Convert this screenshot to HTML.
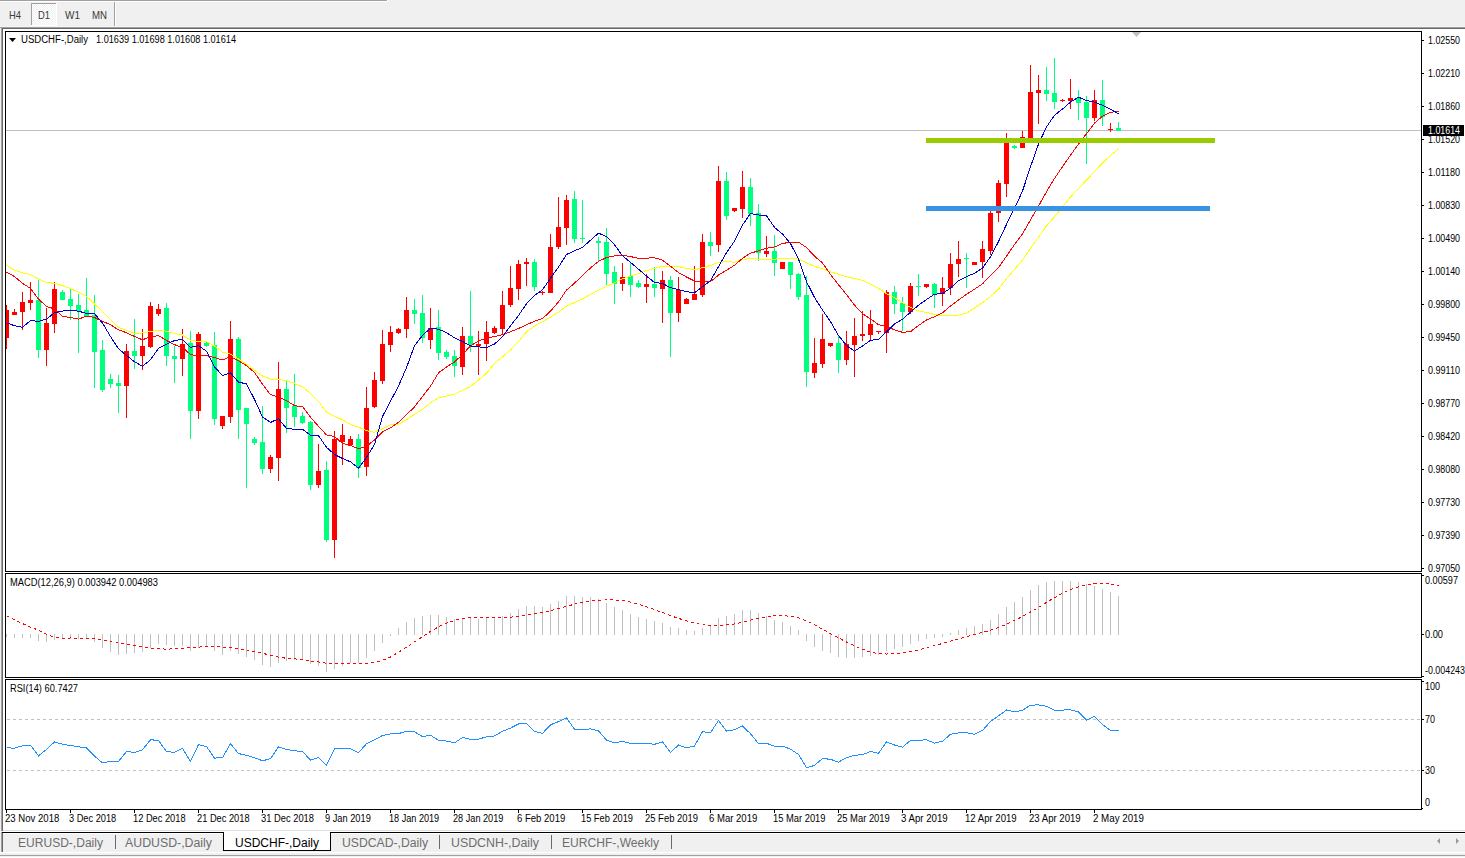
<!DOCTYPE html><html><head><meta charset="utf-8"><style>html,body{margin:0;padding:0;background:#f0f0f0;overflow:hidden}svg{display:block}text{font-family:"Liberation Sans",sans-serif}</style></head><body><svg width="1465" height="858" viewBox="0 0 1465 858" font-family="Liberation Sans, sans-serif" shape-rendering="crispEdges">
<rect x="0" y="0" width="1465" height="858" fill="#f0f0f0"/>
<rect x="0" y="0" width="387" height="1" fill="#a0a0a0"/>
<rect x="0" y="1" width="388" height="1" fill="#ffffff"/>
<rect x="387" y="0" width="1" height="2" fill="#ffffff"/>
<defs><pattern id="dith" width="2" height="2" patternUnits="userSpaceOnUse"><rect width="2" height="2" fill="#f0f0f0"/><rect width="1" height="1" fill="#ffffff"/><rect x="1" y="1" width="1" height="1" fill="#ffffff"/></pattern></defs>
<rect x="32" y="4" width="24" height="21" fill="url(#dith)"/>
<rect x="31" y="3" width="25" height="1" fill="#a0a0a0"/>
<rect x="31" y="3" width="1" height="22" fill="#a0a0a0"/>
<rect x="31" y="25" width="26" height="1" fill="#ffffff"/>
<rect x="56" y="3" width="1" height="23" fill="#ffffff"/>
<rect x="114" y="2" width="1" height="25" fill="#a0a0a0"/>
<rect x="115" y="2" width="1" height="25" fill="#ffffff"/>
<text x="9" y="19" font-size="10.4" fill="#3a3a3a" text-anchor="start" textLength="12" lengthAdjust="spacingAndGlyphs">H4</text>
<text x="38" y="19" font-size="10.4" fill="#3a3a3a" text-anchor="start" textLength="12" lengthAdjust="spacingAndGlyphs">D1</text>
<text x="65" y="19" font-size="10.4" fill="#3a3a3a" text-anchor="start" textLength="15" lengthAdjust="spacingAndGlyphs">W1</text>
<text x="92" y="19" font-size="10.4" fill="#3a3a3a" text-anchor="start" textLength="15" lengthAdjust="spacingAndGlyphs">MN</text>
<rect x="0" y="26" width="1465" height="1" fill="#f5f5f5"/>
<rect x="0" y="27" width="1465" height="1" fill="#a0a0a0"/>
<rect x="2" y="28" width="1463" height="1" fill="#696969"/>
<rect x="1" y="27" width="1" height="804" fill="#a0a0a0"/>
<rect x="2" y="28" width="1" height="803" fill="#696969"/>
<rect x="3" y="29" width="1462" height="803" fill="#ffffff"/>
<rect x="3" y="830" width="1462" height="1" fill="#e3e3e3"/>
<rect x="5" y="31" width="1417" height="1" fill="#000000"/>
<rect x="5" y="571" width="1417" height="1" fill="#000000"/>
<rect x="5" y="31" width="1" height="541" fill="#000000"/>
<rect x="1421" y="31" width="1" height="541" fill="#000000"/>
<rect x="5" y="573" width="1417" height="1" fill="#000000"/>
<rect x="5" y="677" width="1417" height="1" fill="#000000"/>
<rect x="5" y="573" width="1" height="105" fill="#000000"/>
<rect x="1421" y="573" width="1" height="105" fill="#000000"/>
<rect x="5" y="679" width="1417" height="1" fill="#000000"/>
<rect x="5" y="809" width="1417" height="1" fill="#000000"/>
<rect x="5" y="679" width="1" height="131" fill="#000000"/>
<rect x="1421" y="679" width="1" height="131" fill="#000000"/>
<defs><clipPath id="cm"><rect x="6" y="32" width="1415" height="539"/></clipPath><clipPath id="cd"><rect x="6" y="574" width="1415" height="103"/></clipPath><clipPath id="cr"><rect x="6" y="680" width="1415" height="129"/></clipPath></defs>
<rect x="1422" y="40" width="2" height="1" fill="#000000"/>
<text x="1428" y="44" font-size="10" fill="#000" text-anchor="start" textLength="32" lengthAdjust="spacingAndGlyphs">1.02550</text>
<rect x="1422" y="73" width="2" height="1" fill="#000000"/>
<text x="1428" y="77" font-size="10" fill="#000" text-anchor="start" textLength="32" lengthAdjust="spacingAndGlyphs">1.02210</text>
<rect x="1422" y="106" width="2" height="1" fill="#000000"/>
<text x="1428" y="110" font-size="10" fill="#000" text-anchor="start" textLength="32" lengthAdjust="spacingAndGlyphs">1.01860</text>
<rect x="1422" y="139" width="2" height="1" fill="#000000"/>
<text x="1428" y="143" font-size="10" fill="#000" text-anchor="start" textLength="32" lengthAdjust="spacingAndGlyphs">1.01520</text>
<rect x="1422" y="172" width="2" height="1" fill="#000000"/>
<text x="1428" y="176" font-size="10" fill="#000" text-anchor="start" textLength="32" lengthAdjust="spacingAndGlyphs">1.01180</text>
<rect x="1422" y="205" width="2" height="1" fill="#000000"/>
<text x="1428" y="209" font-size="10" fill="#000" text-anchor="start" textLength="32" lengthAdjust="spacingAndGlyphs">1.00830</text>
<rect x="1422" y="238" width="2" height="1" fill="#000000"/>
<text x="1428" y="242" font-size="10" fill="#000" text-anchor="start" textLength="32" lengthAdjust="spacingAndGlyphs">1.00490</text>
<rect x="1422" y="271" width="2" height="1" fill="#000000"/>
<text x="1428" y="275" font-size="10" fill="#000" text-anchor="start" textLength="32" lengthAdjust="spacingAndGlyphs">1.00140</text>
<rect x="1422" y="304" width="2" height="1" fill="#000000"/>
<text x="1428" y="308" font-size="10" fill="#000" text-anchor="start" textLength="32" lengthAdjust="spacingAndGlyphs">0.99800</text>
<rect x="1422" y="337" width="2" height="1" fill="#000000"/>
<text x="1428" y="341" font-size="10" fill="#000" text-anchor="start" textLength="32" lengthAdjust="spacingAndGlyphs">0.99450</text>
<rect x="1422" y="370" width="2" height="1" fill="#000000"/>
<text x="1428" y="374" font-size="10" fill="#000" text-anchor="start" textLength="32" lengthAdjust="spacingAndGlyphs">0.99110</text>
<rect x="1422" y="403" width="2" height="1" fill="#000000"/>
<text x="1428" y="407" font-size="10" fill="#000" text-anchor="start" textLength="32" lengthAdjust="spacingAndGlyphs">0.98770</text>
<rect x="1422" y="436" width="2" height="1" fill="#000000"/>
<text x="1428" y="440" font-size="10" fill="#000" text-anchor="start" textLength="32" lengthAdjust="spacingAndGlyphs">0.98420</text>
<rect x="1422" y="469" width="2" height="1" fill="#000000"/>
<text x="1428" y="473" font-size="10" fill="#000" text-anchor="start" textLength="32" lengthAdjust="spacingAndGlyphs">0.98080</text>
<rect x="1422" y="502" width="2" height="1" fill="#000000"/>
<text x="1428" y="506" font-size="10" fill="#000" text-anchor="start" textLength="32" lengthAdjust="spacingAndGlyphs">0.97730</text>
<rect x="1422" y="535" width="2" height="1" fill="#000000"/>
<text x="1428" y="539" font-size="10" fill="#000" text-anchor="start" textLength="32" lengthAdjust="spacingAndGlyphs">0.97390</text>
<rect x="1422" y="568" width="2" height="1" fill="#000000"/>
<text x="1428" y="572" font-size="10" fill="#000" text-anchor="start" textLength="32" lengthAdjust="spacingAndGlyphs">0.97050</text>
<g clip-path="url(#cm)">
<rect x="6" y="130" width="1415" height="1" fill="#c0c0c0"/>
<rect x="6" y="305" width="1" height="44" fill="#ff0000"/>
<rect x="4" y="310" width="5" height="28" fill="#ff0000"/>
<rect x="14" y="309" width="1" height="6" fill="#ff0000"/>
<rect x="12" y="312" width="5" height="3" fill="#ff0000"/>
<rect x="22" y="292" width="1" height="38" fill="#ff0000"/>
<rect x="20" y="302" width="5" height="10" fill="#ff0000"/>
<rect x="30" y="282" width="1" height="28" fill="#ff0000"/>
<rect x="28" y="300" width="5" height="3" fill="#ff0000"/>
<rect x="38" y="280" width="1" height="78" fill="#00ff7f"/>
<rect x="36" y="300" width="5" height="50" fill="#00ff7f"/>
<rect x="46" y="308" width="1" height="58" fill="#ff0000"/>
<rect x="44" y="323" width="5" height="27" fill="#ff0000"/>
<rect x="54" y="282" width="1" height="51" fill="#ff0000"/>
<rect x="52" y="289" width="5" height="35" fill="#ff0000"/>
<rect x="62" y="290" width="1" height="10" fill="#00ff7f"/>
<rect x="60" y="292" width="5" height="8" fill="#00ff7f"/>
<rect x="70" y="288" width="1" height="32" fill="#00ff7f"/>
<rect x="68" y="299" width="5" height="7" fill="#00ff7f"/>
<rect x="78" y="294" width="1" height="59" fill="#00ff7f"/>
<rect x="76" y="305" width="5" height="6" fill="#00ff7f"/>
<rect x="86" y="278" width="1" height="38" fill="#00ff7f"/>
<rect x="84" y="310" width="5" height="6" fill="#00ff7f"/>
<rect x="94" y="295" width="1" height="93" fill="#00ff7f"/>
<rect x="92" y="315" width="5" height="37" fill="#00ff7f"/>
<rect x="102" y="340" width="1" height="52" fill="#00ff7f"/>
<rect x="100" y="350" width="5" height="40" fill="#00ff7f"/>
<rect x="110" y="374" width="1" height="14" fill="#00ff7f"/>
<rect x="108" y="379" width="5" height="5" fill="#00ff7f"/>
<rect x="118" y="375" width="1" height="38" fill="#00ff7f"/>
<rect x="116" y="383" width="5" height="3" fill="#00ff7f"/>
<rect x="126" y="344" width="1" height="74" fill="#ff0000"/>
<rect x="124" y="351" width="5" height="35" fill="#ff0000"/>
<rect x="134" y="319" width="1" height="50" fill="#00ff7f"/>
<rect x="132" y="351" width="5" height="5" fill="#00ff7f"/>
<rect x="142" y="329" width="1" height="41" fill="#ff0000"/>
<rect x="140" y="346" width="5" height="10" fill="#ff0000"/>
<rect x="150" y="302" width="1" height="46" fill="#ff0000"/>
<rect x="148" y="306" width="5" height="41" fill="#ff0000"/>
<rect x="158" y="304" width="1" height="12" fill="#ff0000"/>
<rect x="156" y="309" width="5" height="5" fill="#ff0000"/>
<rect x="166" y="303" width="1" height="63" fill="#00ff7f"/>
<rect x="164" y="308" width="5" height="48" fill="#00ff7f"/>
<rect x="174" y="346" width="1" height="37" fill="#00ff7f"/>
<rect x="172" y="356" width="5" height="3" fill="#00ff7f"/>
<rect x="182" y="329" width="1" height="47" fill="#ff0000"/>
<rect x="180" y="344" width="5" height="15" fill="#ff0000"/>
<rect x="190" y="331" width="1" height="108" fill="#00ff7f"/>
<rect x="188" y="343" width="5" height="68" fill="#00ff7f"/>
<rect x="198" y="332" width="1" height="87" fill="#ff0000"/>
<rect x="196" y="334" width="5" height="77" fill="#ff0000"/>
<rect x="206" y="342" width="1" height="5" fill="#00ff7f"/>
<rect x="204" y="343" width="5" height="3" fill="#00ff7f"/>
<rect x="214" y="332" width="1" height="93" fill="#00ff7f"/>
<rect x="212" y="345" width="5" height="74" fill="#00ff7f"/>
<rect x="222" y="416" width="1" height="13" fill="#ff0000"/>
<rect x="220" y="416" width="5" height="10" fill="#ff0000"/>
<rect x="230" y="321" width="1" height="102" fill="#ff0000"/>
<rect x="228" y="339" width="5" height="78" fill="#ff0000"/>
<rect x="238" y="337" width="1" height="102" fill="#00ff7f"/>
<rect x="236" y="339" width="5" height="71" fill="#00ff7f"/>
<rect x="246" y="408" width="1" height="80" fill="#00ff7f"/>
<rect x="244" y="408" width="5" height="16" fill="#00ff7f"/>
<rect x="254" y="437" width="1" height="8" fill="#00ff7f"/>
<rect x="252" y="439" width="5" height="4" fill="#00ff7f"/>
<rect x="262" y="406" width="1" height="68" fill="#00ff7f"/>
<rect x="260" y="442" width="5" height="27" fill="#00ff7f"/>
<rect x="270" y="455" width="1" height="18" fill="#ff0000"/>
<rect x="268" y="457" width="5" height="12" fill="#ff0000"/>
<rect x="278" y="362" width="1" height="119" fill="#ff0000"/>
<rect x="276" y="389" width="5" height="69" fill="#ff0000"/>
<rect x="286" y="380" width="1" height="53" fill="#00ff7f"/>
<rect x="284" y="389" width="5" height="19" fill="#00ff7f"/>
<rect x="294" y="374" width="1" height="53" fill="#00ff7f"/>
<rect x="292" y="406" width="5" height="11" fill="#00ff7f"/>
<rect x="302" y="412" width="1" height="12" fill="#00ff7f"/>
<rect x="300" y="416" width="5" height="7" fill="#00ff7f"/>
<rect x="310" y="421" width="1" height="69" fill="#00ff7f"/>
<rect x="308" y="422" width="5" height="63" fill="#00ff7f"/>
<rect x="318" y="444" width="1" height="44" fill="#ff0000"/>
<rect x="316" y="471" width="5" height="14" fill="#ff0000"/>
<rect x="326" y="461" width="1" height="81" fill="#00ff7f"/>
<rect x="324" y="470" width="5" height="70" fill="#00ff7f"/>
<rect x="334" y="431" width="1" height="127" fill="#ff0000"/>
<rect x="332" y="439" width="5" height="101" fill="#ff0000"/>
<rect x="342" y="424" width="1" height="41" fill="#ff0000"/>
<rect x="340" y="435" width="5" height="7" fill="#ff0000"/>
<rect x="350" y="436" width="1" height="10" fill="#ff0000"/>
<rect x="348" y="439" width="5" height="6" fill="#ff0000"/>
<rect x="358" y="434" width="1" height="44" fill="#00ff7f"/>
<rect x="356" y="439" width="5" height="29" fill="#00ff7f"/>
<rect x="366" y="387" width="1" height="89" fill="#ff0000"/>
<rect x="364" y="408" width="5" height="59" fill="#ff0000"/>
<rect x="374" y="372" width="1" height="36" fill="#ff0000"/>
<rect x="372" y="380" width="5" height="27" fill="#ff0000"/>
<rect x="382" y="330" width="1" height="54" fill="#ff0000"/>
<rect x="380" y="344" width="5" height="37" fill="#ff0000"/>
<rect x="390" y="326" width="1" height="26" fill="#ff0000"/>
<rect x="388" y="332" width="5" height="13" fill="#ff0000"/>
<rect x="398" y="328" width="1" height="6" fill="#ff0000"/>
<rect x="396" y="329" width="5" height="4" fill="#ff0000"/>
<rect x="406" y="297" width="1" height="41" fill="#ff0000"/>
<rect x="404" y="310" width="5" height="19" fill="#ff0000"/>
<rect x="414" y="299" width="1" height="25" fill="#00ff7f"/>
<rect x="412" y="310" width="5" height="4" fill="#00ff7f"/>
<rect x="422" y="295" width="1" height="48" fill="#00ff7f"/>
<rect x="420" y="313" width="5" height="25" fill="#00ff7f"/>
<rect x="430" y="308" width="1" height="41" fill="#ff0000"/>
<rect x="428" y="328" width="5" height="12" fill="#ff0000"/>
<rect x="438" y="310" width="1" height="50" fill="#00ff7f"/>
<rect x="436" y="327" width="5" height="26" fill="#00ff7f"/>
<rect x="446" y="350" width="1" height="9" fill="#00ff7f"/>
<rect x="444" y="352" width="5" height="5" fill="#00ff7f"/>
<rect x="454" y="350" width="1" height="27" fill="#00ff7f"/>
<rect x="452" y="356" width="5" height="10" fill="#00ff7f"/>
<rect x="462" y="327" width="1" height="48" fill="#ff0000"/>
<rect x="460" y="336" width="5" height="31" fill="#ff0000"/>
<rect x="470" y="291" width="1" height="61" fill="#00ff7f"/>
<rect x="468" y="336" width="5" height="9" fill="#00ff7f"/>
<rect x="478" y="331" width="1" height="44" fill="#ff0000"/>
<rect x="476" y="344" width="5" height="2" fill="#ff0000"/>
<rect x="486" y="321" width="1" height="40" fill="#ff0000"/>
<rect x="484" y="332" width="5" height="12" fill="#ff0000"/>
<rect x="494" y="326" width="1" height="8" fill="#ff0000"/>
<rect x="492" y="328" width="5" height="5" fill="#ff0000"/>
<rect x="502" y="291" width="1" height="44" fill="#ff0000"/>
<rect x="500" y="305" width="5" height="24" fill="#ff0000"/>
<rect x="510" y="266" width="1" height="41" fill="#ff0000"/>
<rect x="508" y="288" width="5" height="17" fill="#ff0000"/>
<rect x="518" y="260" width="1" height="40" fill="#ff0000"/>
<rect x="516" y="264" width="5" height="25" fill="#ff0000"/>
<rect x="526" y="258" width="1" height="28" fill="#ff0000"/>
<rect x="524" y="262" width="5" height="2" fill="#ff0000"/>
<rect x="534" y="259" width="1" height="32" fill="#00ff7f"/>
<rect x="532" y="262" width="5" height="25" fill="#00ff7f"/>
<rect x="542" y="291" width="1" height="4" fill="#ff0000"/>
<rect x="540" y="292" width="5" height="1" fill="#ff0000"/>
<rect x="550" y="234" width="1" height="59" fill="#ff0000"/>
<rect x="548" y="247" width="5" height="46" fill="#ff0000"/>
<rect x="558" y="197" width="1" height="52" fill="#ff0000"/>
<rect x="556" y="227" width="5" height="20" fill="#ff0000"/>
<rect x="566" y="195" width="1" height="50" fill="#ff0000"/>
<rect x="564" y="200" width="5" height="28" fill="#ff0000"/>
<rect x="574" y="191" width="1" height="52" fill="#00ff7f"/>
<rect x="572" y="199" width="5" height="40" fill="#00ff7f"/>
<rect x="582" y="200" width="1" height="43" fill="#00ff7f"/>
<rect x="580" y="238" width="5" height="1" fill="#00ff7f"/>
<rect x="598" y="237" width="1" height="24" fill="#00ff7f"/>
<rect x="596" y="241" width="5" height="2" fill="#00ff7f"/>
<rect x="606" y="228" width="1" height="57" fill="#00ff7f"/>
<rect x="604" y="242" width="5" height="32" fill="#00ff7f"/>
<rect x="614" y="266" width="1" height="38" fill="#00ff7f"/>
<rect x="612" y="272" width="5" height="12" fill="#00ff7f"/>
<rect x="622" y="263" width="1" height="28" fill="#ff0000"/>
<rect x="620" y="277" width="5" height="7" fill="#ff0000"/>
<rect x="630" y="262" width="1" height="35" fill="#00ff7f"/>
<rect x="628" y="276" width="5" height="9" fill="#00ff7f"/>
<rect x="638" y="280" width="1" height="8" fill="#00ff7f"/>
<rect x="636" y="283" width="5" height="4" fill="#00ff7f"/>
<rect x="646" y="274" width="1" height="29" fill="#ff0000"/>
<rect x="644" y="284" width="5" height="3" fill="#ff0000"/>
<rect x="654" y="267" width="1" height="30" fill="#00ff7f"/>
<rect x="652" y="284" width="5" height="4" fill="#00ff7f"/>
<rect x="662" y="271" width="1" height="52" fill="#ff0000"/>
<rect x="660" y="280" width="5" height="9" fill="#ff0000"/>
<rect x="670" y="276" width="1" height="81" fill="#00ff7f"/>
<rect x="668" y="280" width="5" height="33" fill="#00ff7f"/>
<rect x="678" y="277" width="1" height="45" fill="#ff0000"/>
<rect x="676" y="290" width="5" height="23" fill="#ff0000"/>
<rect x="686" y="298" width="1" height="6" fill="#ff0000"/>
<rect x="684" y="299" width="5" height="5" fill="#ff0000"/>
<rect x="694" y="266" width="1" height="34" fill="#ff0000"/>
<rect x="692" y="294" width="5" height="6" fill="#ff0000"/>
<rect x="702" y="234" width="1" height="63" fill="#ff0000"/>
<rect x="700" y="242" width="5" height="53" fill="#ff0000"/>
<rect x="710" y="232" width="1" height="24" fill="#00ff7f"/>
<rect x="708" y="242" width="5" height="4" fill="#00ff7f"/>
<rect x="718" y="166" width="1" height="86" fill="#ff0000"/>
<rect x="716" y="181" width="5" height="64" fill="#ff0000"/>
<rect x="726" y="172" width="1" height="48" fill="#00ff7f"/>
<rect x="724" y="181" width="5" height="35" fill="#00ff7f"/>
<rect x="734" y="208" width="1" height="4" fill="#ff0000"/>
<rect x="732" y="208" width="5" height="3" fill="#ff0000"/>
<rect x="742" y="171" width="1" height="47" fill="#ff0000"/>
<rect x="740" y="187" width="5" height="22" fill="#ff0000"/>
<rect x="750" y="178" width="1" height="48" fill="#00ff7f"/>
<rect x="748" y="187" width="5" height="27" fill="#00ff7f"/>
<rect x="758" y="204" width="1" height="57" fill="#00ff7f"/>
<rect x="756" y="213" width="5" height="40" fill="#00ff7f"/>
<rect x="766" y="236" width="1" height="21" fill="#ff0000"/>
<rect x="764" y="251" width="5" height="3" fill="#ff0000"/>
<rect x="774" y="235" width="1" height="41" fill="#00ff7f"/>
<rect x="772" y="251" width="5" height="12" fill="#00ff7f"/>
<rect x="782" y="262" width="1" height="7" fill="#ff0000"/>
<rect x="780" y="262" width="5" height="7" fill="#ff0000"/>
<rect x="790" y="262" width="1" height="27" fill="#00ff7f"/>
<rect x="788" y="262" width="5" height="13" fill="#00ff7f"/>
<rect x="798" y="273" width="1" height="27" fill="#00ff7f"/>
<rect x="796" y="274" width="5" height="23" fill="#00ff7f"/>
<rect x="806" y="276" width="1" height="111" fill="#00ff7f"/>
<rect x="804" y="295" width="5" height="77" fill="#00ff7f"/>
<rect x="814" y="338" width="1" height="40" fill="#ff0000"/>
<rect x="812" y="363" width="5" height="10" fill="#ff0000"/>
<rect x="822" y="314" width="1" height="54" fill="#ff0000"/>
<rect x="820" y="339" width="5" height="25" fill="#ff0000"/>
<rect x="830" y="343" width="1" height="4" fill="#ff0000"/>
<rect x="828" y="343" width="5" height="3" fill="#ff0000"/>
<rect x="838" y="336" width="1" height="37" fill="#00ff7f"/>
<rect x="836" y="343" width="5" height="17" fill="#00ff7f"/>
<rect x="846" y="331" width="1" height="34" fill="#ff0000"/>
<rect x="844" y="344" width="5" height="16" fill="#ff0000"/>
<rect x="854" y="318" width="1" height="59" fill="#ff0000"/>
<rect x="852" y="336" width="5" height="9" fill="#ff0000"/>
<rect x="862" y="311" width="1" height="30" fill="#ff0000"/>
<rect x="860" y="334" width="5" height="2" fill="#ff0000"/>
<rect x="870" y="310" width="1" height="30" fill="#ff0000"/>
<rect x="868" y="324" width="5" height="11" fill="#ff0000"/>
<rect x="878" y="331" width="1" height="3" fill="#ff0000"/>
<rect x="876" y="331" width="5" height="1" fill="#ff0000"/>
<rect x="886" y="290" width="1" height="63" fill="#ff0000"/>
<rect x="884" y="292" width="5" height="41" fill="#ff0000"/>
<rect x="894" y="286" width="1" height="28" fill="#00ff7f"/>
<rect x="892" y="292" width="5" height="12" fill="#00ff7f"/>
<rect x="902" y="297" width="1" height="34" fill="#00ff7f"/>
<rect x="900" y="303" width="5" height="9" fill="#00ff7f"/>
<rect x="910" y="283" width="1" height="31" fill="#ff0000"/>
<rect x="908" y="286" width="5" height="26" fill="#ff0000"/>
<rect x="918" y="274" width="1" height="22" fill="#00ff7f"/>
<rect x="916" y="286" width="5" height="1" fill="#00ff7f"/>
<rect x="926" y="284" width="1" height="4" fill="#ff0000"/>
<rect x="924" y="284" width="5" height="3" fill="#ff0000"/>
<rect x="934" y="283" width="1" height="25" fill="#00ff7f"/>
<rect x="932" y="284" width="5" height="11" fill="#00ff7f"/>
<rect x="942" y="277" width="1" height="29" fill="#ff0000"/>
<rect x="940" y="288" width="5" height="6" fill="#ff0000"/>
<rect x="950" y="253" width="1" height="42" fill="#ff0000"/>
<rect x="948" y="264" width="5" height="24" fill="#ff0000"/>
<rect x="958" y="241" width="1" height="36" fill="#ff0000"/>
<rect x="956" y="259" width="5" height="5" fill="#ff0000"/>
<rect x="966" y="253" width="1" height="35" fill="#00ff7f"/>
<rect x="964" y="258" width="5" height="1" fill="#00ff7f"/>
<rect x="974" y="262" width="1" height="3" fill="#ff0000"/>
<rect x="972" y="262" width="5" height="3" fill="#ff0000"/>
<rect x="982" y="241" width="1" height="37" fill="#ff0000"/>
<rect x="980" y="249" width="5" height="13" fill="#ff0000"/>
<rect x="990" y="211" width="1" height="44" fill="#ff0000"/>
<rect x="988" y="213" width="5" height="38" fill="#ff0000"/>
<rect x="998" y="180" width="1" height="42" fill="#ff0000"/>
<rect x="996" y="183" width="5" height="30" fill="#ff0000"/>
<rect x="1006" y="133" width="1" height="64" fill="#ff0000"/>
<rect x="1004" y="143" width="5" height="41" fill="#ff0000"/>
<rect x="1014" y="145" width="1" height="4" fill="#00ff7f"/>
<rect x="1012" y="146" width="5" height="2" fill="#00ff7f"/>
<rect x="1022" y="131" width="1" height="17" fill="#ff0000"/>
<rect x="1020" y="137" width="5" height="11" fill="#ff0000"/>
<rect x="1030" y="65" width="1" height="76" fill="#ff0000"/>
<rect x="1028" y="92" width="5" height="47" fill="#ff0000"/>
<rect x="1038" y="75" width="1" height="49" fill="#ff0000"/>
<rect x="1036" y="90" width="5" height="3" fill="#ff0000"/>
<rect x="1046" y="67" width="1" height="34" fill="#00ff7f"/>
<rect x="1044" y="90" width="5" height="4" fill="#00ff7f"/>
<rect x="1054" y="58" width="1" height="51" fill="#00ff7f"/>
<rect x="1052" y="93" width="5" height="9" fill="#00ff7f"/>
<rect x="1062" y="99" width="1" height="3" fill="#ff0000"/>
<rect x="1060" y="100" width="5" height="1" fill="#ff0000"/>
<rect x="1070" y="79" width="1" height="30" fill="#ff0000"/>
<rect x="1068" y="98" width="5" height="3" fill="#ff0000"/>
<rect x="1078" y="90" width="1" height="30" fill="#00ff7f"/>
<rect x="1076" y="98" width="5" height="5" fill="#00ff7f"/>
<rect x="1086" y="96" width="1" height="68" fill="#00ff7f"/>
<rect x="1084" y="102" width="5" height="16" fill="#00ff7f"/>
<rect x="1094" y="90" width="1" height="31" fill="#ff0000"/>
<rect x="1092" y="100" width="5" height="18" fill="#ff0000"/>
<rect x="1102" y="80" width="1" height="46" fill="#00ff7f"/>
<rect x="1100" y="100" width="5" height="17" fill="#00ff7f"/>
<rect x="1110" y="123" width="1" height="9" fill="#ff0000"/>
<rect x="1108" y="129" width="5" height="1" fill="#ff0000"/>
<rect x="1118" y="122" width="1" height="9" fill="#00ff7f"/>
<rect x="1116" y="128" width="5" height="3" fill="#00ff7f"/>
<polyline points="6.5,265.30 14.5,270.20 22.5,272.80 30.5,274.70 38.5,279.10 46.5,282.50 54.5,283.30 62.5,285.60 70.5,288.60 78.5,292.30 86.5,296.30 94.5,303.90 102.5,311.50 110.5,319.60 118.5,327.60 126.5,330.30 134.5,333.40 142.5,333.00 150.5,331.30 158.5,330.30 166.5,331.17 174.5,333.45 182.5,334.98 190.5,340.12 198.5,341.74 206.5,341.55 214.5,346.07 222.5,352.12 230.5,354.02 238.5,358.98 246.5,364.36 254.5,370.40 262.5,375.98 270.5,379.21 278.5,379.50 286.5,380.55 294.5,383.64 302.5,386.83 310.5,393.40 318.5,401.26 326.5,412.21 334.5,416.21 342.5,419.88 350.5,424.40 358.5,427.12 366.5,430.64 374.5,432.31 382.5,428.79 390.5,424.79 398.5,424.31 406.5,419.60 414.5,414.36 422.5,409.36 430.5,402.69 438.5,397.69 446.5,396.12 454.5,394.12 462.5,390.31 470.5,386.60 478.5,379.93 486.5,373.31 494.5,363.26 502.5,356.88 510.5,349.88 518.5,341.55 526.5,331.79 534.5,325.98 542.5,321.79 550.5,317.17 558.5,312.17 566.5,306.02 574.5,302.60 582.5,299.02 590.5,294.21 598.5,290.12 606.5,286.36 614.5,282.88 622.5,278.69 630.5,276.21 638.5,273.45 646.5,270.60 654.5,268.45 662.5,266.17 670.5,266.50 678.5,266.60 686.5,268.26 694.5,269.79 702.5,267.69 710.5,265.45 718.5,262.31 726.5,261.74 734.5,262.12 742.5,259.69 750.5,258.50 758.5,259.26 766.5,259.69 774.5,259.17 782.5,258.17 790.5,258.02 798.5,258.60 806.5,262.64 814.5,266.40 822.5,268.88 830.5,271.88 838.5,274.12 846.5,276.69 854.5,278.45 862.5,280.36 870.5,284.26 878.5,288.36 886.5,293.64 894.5,297.83 902.5,302.74 910.5,307.45 918.5,310.93 926.5,312.45 934.5,314.50 942.5,315.74 950.5,315.83 958.5,315.12 966.5,313.31 974.5,308.12 982.5,302.69 990.5,296.69 998.5,289.07 1006.5,278.79 1014.5,269.40 1022.5,259.93 1030.5,248.40 1038.5,237.26 1046.5,225.93 1054.5,216.83 1062.5,207.17 1070.5,197.02 1078.5,188.26 1086.5,180.21 1094.5,171.45 1102.5,162.98 1110.5,155.40 1118.5,149.02" fill="none" stroke="#ffff00" stroke-width="1" shape-rendering="crispEdges"/>
<polyline points="6.5,272.30 14.5,276.50 22.5,283.30 30.5,288.40 38.5,299.10 46.5,306.40 54.5,309.00 62.5,316.40 70.5,317.40 78.5,319.20 86.5,316.10 94.5,317.50 102.5,321.40 110.5,324.57 118.5,329.93 126.5,332.71 134.5,336.50 142.5,339.79 150.5,336.71 158.5,335.71 166.5,340.43 174.5,344.64 182.5,347.43 190.5,354.57 198.5,355.93 206.5,355.50 214.5,357.57 222.5,359.93 230.5,356.64 238.5,360.79 246.5,365.64 254.5,372.50 262.5,384.07 270.5,394.64 278.5,397.07 286.5,400.57 294.5,405.71 302.5,406.57 310.5,417.29 318.5,426.29 326.5,434.93 334.5,436.57 342.5,443.43 350.5,445.57 358.5,448.71 366.5,446.29 374.5,440.00 382.5,431.93 390.5,427.86 398.5,422.29 406.5,414.71 414.5,406.93 422.5,396.43 430.5,386.21 438.5,372.86 446.5,366.93 454.5,361.93 462.5,354.57 470.5,345.79 478.5,341.21 486.5,337.79 494.5,336.64 502.5,334.71 510.5,331.79 518.5,328.50 526.5,324.86 534.5,321.21 542.5,318.64 550.5,311.14 558.5,301.93 566.5,290.14 574.5,283.14 582.5,275.57 590.5,267.86 598.5,261.43 606.5,257.50 614.5,255.93 622.5,255.14 630.5,256.57 638.5,258.29 646.5,258.14 654.5,257.79 662.5,260.14 670.5,266.21 678.5,272.64 686.5,277.00 694.5,281.00 702.5,281.43 710.5,281.64 718.5,275.07 726.5,270.21 734.5,265.29 742.5,258.36 750.5,253.14 758.5,250.86 766.5,248.29 774.5,247.00 782.5,243.43 790.5,242.29 798.5,242.07 806.5,247.57 814.5,256.21 822.5,262.93 830.5,274.50 838.5,284.79 846.5,294.50 854.5,305.14 862.5,313.79 870.5,318.93 878.5,324.64 886.5,326.79 894.5,329.71 902.5,332.36 910.5,331.64 918.5,325.57 926.5,319.93 934.5,316.71 942.5,312.79 950.5,306.00 958.5,299.93 966.5,294.36 974.5,289.21 982.5,283.86 990.5,275.43 998.5,267.64 1006.5,256.21 1014.5,244.50 1022.5,233.86 1030.5,220.00 1038.5,206.14 1046.5,191.79 1054.5,178.43 1062.5,166.71 1070.5,155.21 1078.5,144.07 1086.5,133.71 1094.5,123.07 1102.5,116.14 1110.5,112.29 1118.5,111.36" fill="none" stroke="#ff0000" stroke-width="1" shape-rendering="crispEdges"/>
<polyline points="6.5,322.70 14.5,325.80 22.5,327.20 30.5,320.60 38.5,321.30 46.5,319.20 54.5,312.64 62.5,311.07 70.5,310.07 78.5,311.21 86.5,313.36 94.5,313.64 102.5,323.07 110.5,336.50 118.5,348.79 126.5,355.36 134.5,361.79 142.5,366.21 150.5,359.79 158.5,348.36 166.5,344.36 174.5,340.50 182.5,339.50 190.5,347.36 198.5,345.64 206.5,351.21 214.5,366.79 222.5,375.50 230.5,372.79 238.5,382.07 246.5,383.93 254.5,399.36 262.5,416.93 270.5,422.50 278.5,418.64 286.5,428.36 294.5,429.36 302.5,429.21 310.5,435.21 318.5,435.64 326.5,447.36 334.5,454.50 342.5,458.50 350.5,461.79 358.5,468.21 366.5,457.36 374.5,444.36 382.5,416.50 390.5,401.21 398.5,386.07 406.5,367.64 414.5,345.64 422.5,335.50 430.5,328.07 438.5,329.21 446.5,332.64 454.5,337.79 462.5,341.50 470.5,345.93 478.5,346.93 486.5,347.50 494.5,344.07 502.5,336.79 510.5,325.79 518.5,315.50 526.5,303.79 534.5,295.50 542.5,289.79 550.5,278.21 558.5,267.07 566.5,254.50 574.5,250.79 582.5,247.36 590.5,240.21 598.5,233.07 606.5,236.79 614.5,244.79 622.5,255.79 630.5,262.36 638.5,269.21 646.5,276.07 654.5,282.50 662.5,283.50 670.5,287.64 678.5,289.50 686.5,291.64 694.5,292.79 702.5,286.79 710.5,280.79 718.5,266.64 726.5,252.79 734.5,241.07 742.5,225.07 750.5,213.50 758.5,214.93 766.5,215.79 774.5,227.36 782.5,234.07 790.5,243.50 798.5,259.07 806.5,281.64 814.5,297.50 822.5,310.07 830.5,321.64 838.5,335.50 846.5,345.50 854.5,351.21 862.5,345.93 870.5,340.36 878.5,339.21 886.5,331.93 894.5,323.93 902.5,319.21 910.5,312.07 918.5,305.21 926.5,299.50 934.5,294.21 942.5,293.64 950.5,288.07 958.5,280.64 966.5,276.64 974.5,273.21 982.5,268.21 990.5,256.64 998.5,241.64 1006.5,224.36 1014.5,208.36 1022.5,191.07 1030.5,166.79 1038.5,144.07 1046.5,126.93 1054.5,115.21 1062.5,109.07 1070.5,102.07 1078.5,97.07 1086.5,100.64 1094.5,102.07 1102.5,105.36 1110.5,109.36 1118.5,113.64" fill="none" stroke="#0000cd" stroke-width="1" shape-rendering="crispEdges"/>
<rect x="926" y="138" width="289" height="5" fill="#99cc00"/>
<rect x="926" y="206" width="284" height="5" fill="#3993e3"/>
<polygon points="1132,32 1141,32 1136.5,37" fill="#c0c0c0" shape-rendering="auto"/>
</g>
<rect x="1423" y="125" width="41" height="11" fill="#000000"/>
<text x="1428" y="134" font-size="10" fill="#ffffff" text-anchor="start" textLength="32" lengthAdjust="spacingAndGlyphs">1.01614</text>
<polygon points="9,38 16,38 12.5,42" fill="#000" shape-rendering="auto"/>
<text x="21" y="43" font-size="10" fill="#000" text-anchor="start" textLength="67" lengthAdjust="spacingAndGlyphs">USDCHF-,Daily</text>
<text x="96" y="43" font-size="10" fill="#000" text-anchor="start" textLength="140" lengthAdjust="spacingAndGlyphs">1.01639 1.01698 1.01608 1.01614</text>
<g clip-path="url(#cd)">
<rect x="6" y="634" width="1" height="3" fill="#c0c0c0"/>
<rect x="14" y="634" width="1" height="4" fill="#c0c0c0"/>
<rect x="22" y="634" width="1" height="4" fill="#c0c0c0"/>
<rect x="30" y="634" width="1" height="4" fill="#c0c0c0"/>
<rect x="38" y="634" width="1" height="7" fill="#c0c0c0"/>
<rect x="46" y="634" width="1" height="8" fill="#c0c0c0"/>
<rect x="54" y="634" width="1" height="6" fill="#c0c0c0"/>
<rect x="62" y="634" width="1" height="5" fill="#c0c0c0"/>
<rect x="70" y="634" width="1" height="5" fill="#c0c0c0"/>
<rect x="78" y="634" width="1" height="5" fill="#c0c0c0"/>
<rect x="86" y="634" width="1" height="5" fill="#c0c0c0"/>
<rect x="94" y="634" width="1" height="8" fill="#c0c0c0"/>
<rect x="102" y="634" width="1" height="14" fill="#c0c0c0"/>
<rect x="110" y="634" width="1" height="18" fill="#c0c0c0"/>
<rect x="118" y="634" width="1" height="21" fill="#c0c0c0"/>
<rect x="126" y="634" width="1" height="20" fill="#c0c0c0"/>
<rect x="134" y="634" width="1" height="19" fill="#c0c0c0"/>
<rect x="142" y="634" width="1" height="18" fill="#c0c0c0"/>
<rect x="150" y="634" width="1" height="14" fill="#c0c0c0"/>
<rect x="158" y="634" width="1" height="10" fill="#c0c0c0"/>
<rect x="166" y="634" width="1" height="11" fill="#c0c0c0"/>
<rect x="174" y="634" width="1" height="12" fill="#c0c0c0"/>
<rect x="182" y="634" width="1" height="12" fill="#c0c0c0"/>
<rect x="190" y="634" width="1" height="17" fill="#c0c0c0"/>
<rect x="198" y="634" width="1" height="14" fill="#c0c0c0"/>
<rect x="206" y="634" width="1" height="13" fill="#c0c0c0"/>
<rect x="214" y="634" width="1" height="17" fill="#c0c0c0"/>
<rect x="222" y="634" width="1" height="21" fill="#c0c0c0"/>
<rect x="230" y="634" width="1" height="17" fill="#c0c0c0"/>
<rect x="238" y="634" width="1" height="20" fill="#c0c0c0"/>
<rect x="246" y="634" width="1" height="23" fill="#c0c0c0"/>
<rect x="254" y="634" width="1" height="26" fill="#c0c0c0"/>
<rect x="262" y="634" width="1" height="31" fill="#c0c0c0"/>
<rect x="270" y="634" width="1" height="33" fill="#c0c0c0"/>
<rect x="278" y="634" width="1" height="29" fill="#c0c0c0"/>
<rect x="286" y="634" width="1" height="27" fill="#c0c0c0"/>
<rect x="294" y="634" width="1" height="26" fill="#c0c0c0"/>
<rect x="302" y="634" width="1" height="26" fill="#c0c0c0"/>
<rect x="310" y="634" width="1" height="30" fill="#c0c0c0"/>
<rect x="318" y="634" width="1" height="32" fill="#c0c0c0"/>
<rect x="326" y="634" width="1" height="38" fill="#c0c0c0"/>
<rect x="334" y="634" width="1" height="35" fill="#c0c0c0"/>
<rect x="342" y="634" width="1" height="32" fill="#c0c0c0"/>
<rect x="350" y="634" width="1" height="29" fill="#c0c0c0"/>
<rect x="358" y="634" width="1" height="29" fill="#c0c0c0"/>
<rect x="366" y="634" width="1" height="24" fill="#c0c0c0"/>
<rect x="374" y="634" width="1" height="17" fill="#c0c0c0"/>
<rect x="382" y="634" width="1" height="9" fill="#c0c0c0"/>
<rect x="390" y="634" width="1" height="2" fill="#c0c0c0"/>
<rect x="398" y="628" width="1" height="7" fill="#c0c0c0"/>
<rect x="406" y="622" width="1" height="13" fill="#c0c0c0"/>
<rect x="414" y="618" width="1" height="17" fill="#c0c0c0"/>
<rect x="422" y="616" width="1" height="19" fill="#c0c0c0"/>
<rect x="430" y="615" width="1" height="20" fill="#c0c0c0"/>
<rect x="438" y="615" width="1" height="20" fill="#c0c0c0"/>
<rect x="446" y="617" width="1" height="18" fill="#c0c0c0"/>
<rect x="454" y="619" width="1" height="16" fill="#c0c0c0"/>
<rect x="462" y="618" width="1" height="17" fill="#c0c0c0"/>
<rect x="470" y="618" width="1" height="17" fill="#c0c0c0"/>
<rect x="478" y="619" width="1" height="16" fill="#c0c0c0"/>
<rect x="486" y="618" width="1" height="17" fill="#c0c0c0"/>
<rect x="494" y="618" width="1" height="17" fill="#c0c0c0"/>
<rect x="502" y="616" width="1" height="19" fill="#c0c0c0"/>
<rect x="510" y="613" width="1" height="22" fill="#c0c0c0"/>
<rect x="518" y="609" width="1" height="26" fill="#c0c0c0"/>
<rect x="526" y="606" width="1" height="29" fill="#c0c0c0"/>
<rect x="534" y="606" width="1" height="29" fill="#c0c0c0"/>
<rect x="542" y="607" width="1" height="28" fill="#c0c0c0"/>
<rect x="550" y="604" width="1" height="31" fill="#c0c0c0"/>
<rect x="558" y="601" width="1" height="34" fill="#c0c0c0"/>
<rect x="566" y="596" width="1" height="39" fill="#c0c0c0"/>
<rect x="574" y="596" width="1" height="39" fill="#c0c0c0"/>
<rect x="582" y="597" width="1" height="38" fill="#c0c0c0"/>
<rect x="590" y="597" width="1" height="38" fill="#c0c0c0"/>
<rect x="598" y="599" width="1" height="36" fill="#c0c0c0"/>
<rect x="606" y="603" width="1" height="32" fill="#c0c0c0"/>
<rect x="614" y="607" width="1" height="28" fill="#c0c0c0"/>
<rect x="622" y="610" width="1" height="25" fill="#c0c0c0"/>
<rect x="630" y="614" width="1" height="21" fill="#c0c0c0"/>
<rect x="638" y="617" width="1" height="18" fill="#c0c0c0"/>
<rect x="646" y="619" width="1" height="16" fill="#c0c0c0"/>
<rect x="654" y="621" width="1" height="14" fill="#c0c0c0"/>
<rect x="662" y="623" width="1" height="12" fill="#c0c0c0"/>
<rect x="670" y="627" width="1" height="8" fill="#c0c0c0"/>
<rect x="678" y="628" width="1" height="7" fill="#c0c0c0"/>
<rect x="686" y="630" width="1" height="5" fill="#c0c0c0"/>
<rect x="694" y="631" width="1" height="4" fill="#c0c0c0"/>
<rect x="702" y="628" width="1" height="7" fill="#c0c0c0"/>
<rect x="710" y="625" width="1" height="10" fill="#c0c0c0"/>
<rect x="718" y="618" width="1" height="17" fill="#c0c0c0"/>
<rect x="726" y="616" width="1" height="19" fill="#c0c0c0"/>
<rect x="734" y="614" width="1" height="21" fill="#c0c0c0"/>
<rect x="742" y="610" width="1" height="25" fill="#c0c0c0"/>
<rect x="750" y="610" width="1" height="25" fill="#c0c0c0"/>
<rect x="758" y="613" width="1" height="22" fill="#c0c0c0"/>
<rect x="766" y="616" width="1" height="19" fill="#c0c0c0"/>
<rect x="774" y="620" width="1" height="15" fill="#c0c0c0"/>
<rect x="782" y="622" width="1" height="13" fill="#c0c0c0"/>
<rect x="790" y="626" width="1" height="9" fill="#c0c0c0"/>
<rect x="798" y="630" width="1" height="5" fill="#c0c0c0"/>
<rect x="806" y="634" width="1" height="7" fill="#c0c0c0"/>
<rect x="814" y="634" width="1" height="13" fill="#c0c0c0"/>
<rect x="822" y="634" width="1" height="17" fill="#c0c0c0"/>
<rect x="830" y="634" width="1" height="19" fill="#c0c0c0"/>
<rect x="838" y="634" width="1" height="23" fill="#c0c0c0"/>
<rect x="846" y="634" width="1" height="24" fill="#c0c0c0"/>
<rect x="854" y="634" width="1" height="24" fill="#c0c0c0"/>
<rect x="862" y="634" width="1" height="23" fill="#c0c0c0"/>
<rect x="870" y="634" width="1" height="22" fill="#c0c0c0"/>
<rect x="878" y="634" width="1" height="21" fill="#c0c0c0"/>
<rect x="886" y="634" width="1" height="17" fill="#c0c0c0"/>
<rect x="894" y="634" width="1" height="15" fill="#c0c0c0"/>
<rect x="902" y="634" width="1" height="13" fill="#c0c0c0"/>
<rect x="910" y="634" width="1" height="10" fill="#c0c0c0"/>
<rect x="918" y="634" width="1" height="7" fill="#c0c0c0"/>
<rect x="926" y="634" width="1" height="5" fill="#c0c0c0"/>
<rect x="934" y="634" width="1" height="4" fill="#c0c0c0"/>
<rect x="942" y="634" width="1" height="3" fill="#c0c0c0"/>
<rect x="950" y="633" width="1" height="2" fill="#c0c0c0"/>
<rect x="958" y="630" width="1" height="5" fill="#c0c0c0"/>
<rect x="966" y="628" width="1" height="7" fill="#c0c0c0"/>
<rect x="974" y="626" width="1" height="9" fill="#c0c0c0"/>
<rect x="982" y="624" width="1" height="11" fill="#c0c0c0"/>
<rect x="990" y="620" width="1" height="15" fill="#c0c0c0"/>
<rect x="998" y="614" width="1" height="21" fill="#c0c0c0"/>
<rect x="1006" y="607" width="1" height="28" fill="#c0c0c0"/>
<rect x="1014" y="602" width="1" height="33" fill="#c0c0c0"/>
<rect x="1022" y="597" width="1" height="38" fill="#c0c0c0"/>
<rect x="1030" y="590" width="1" height="45" fill="#c0c0c0"/>
<rect x="1038" y="585" width="1" height="50" fill="#c0c0c0"/>
<rect x="1046" y="582" width="1" height="53" fill="#c0c0c0"/>
<rect x="1054" y="581" width="1" height="54" fill="#c0c0c0"/>
<rect x="1062" y="581" width="1" height="54" fill="#c0c0c0"/>
<rect x="1070" y="581" width="1" height="54" fill="#c0c0c0"/>
<rect x="1078" y="582" width="1" height="53" fill="#c0c0c0"/>
<rect x="1086" y="584" width="1" height="51" fill="#c0c0c0"/>
<rect x="1094" y="586" width="1" height="49" fill="#c0c0c0"/>
<rect x="1102" y="589" width="1" height="46" fill="#c0c0c0"/>
<rect x="1110" y="592" width="1" height="43" fill="#c0c0c0"/>
<rect x="1118" y="596" width="1" height="39" fill="#c0c0c0"/>
<polyline points="6.5,615.70 14.5,619.90 22.5,623.60 30.5,627.10 38.5,630.10 46.5,634.10 54.5,637.40 62.5,638.30 70.5,637.98 78.5,638.17 86.5,638.30 94.5,638.81 102.5,639.96 110.5,641.11 118.5,642.50 126.5,644.05 134.5,645.67 142.5,647.18 150.5,648.19 158.5,648.77 166.5,649.09 174.5,648.90 182.5,648.24 190.5,647.78 198.5,647.13 206.5,646.38 214.5,646.31 222.5,647.11 230.5,647.87 238.5,648.80 246.5,649.96 254.5,651.58 262.5,653.18 270.5,655.33 278.5,657.18 286.5,658.27 294.5,658.85 302.5,659.78 310.5,660.90 318.5,661.92 326.5,663.28 334.5,663.75 342.5,663.59 350.5,663.59 358.5,663.80 366.5,663.56 374.5,662.65 382.5,660.36 390.5,657.01 398.5,652.23 406.5,647.12 414.5,641.86 422.5,636.74 430.5,631.44 438.5,626.82 446.5,623.07 454.5,620.45 462.5,618.60 470.5,617.46 478.5,617.08 486.5,617.15 494.5,617.32 502.5,617.44 510.5,617.15 518.5,616.29 526.5,614.89 534.5,613.56 542.5,612.29 550.5,610.67 558.5,608.73 566.5,606.34 574.5,604.18 582.5,602.38 590.5,601.09 598.5,600.28 606.5,599.91 614.5,599.94 622.5,600.63 630.5,602.07 638.5,604.34 646.5,606.89 654.5,609.64 662.5,612.48 670.5,615.59 678.5,618.39 686.5,620.92 694.5,623.21 702.5,624.75 710.5,625.70 718.5,625.61 726.5,624.99 734.5,623.97 742.5,622.15 750.5,620.17 758.5,618.36 766.5,616.74 774.5,615.85 782.5,615.52 790.5,616.32 798.5,617.89 806.5,620.78 814.5,624.80 822.5,629.20 830.5,633.53 838.5,637.91 846.5,642.05 854.5,645.87 862.5,649.28 870.5,652.04 878.5,653.64 886.5,654.03 894.5,653.79 902.5,653.10 910.5,651.68 918.5,649.85 926.5,647.77 934.5,645.62 942.5,643.49 950.5,641.12 958.5,638.88 966.5,636.67 974.5,634.47 982.5,632.42 990.5,630.17 998.5,627.54 1006.5,624.20 1014.5,620.42 1022.5,616.47 1030.5,612.07 1038.5,607.36 1046.5,602.45 1054.5,597.63 1062.5,593.25 1070.5,589.52 1078.5,586.74 1086.5,584.83 1094.5,583.57 1102.5,583.38 1110.5,584.17 1118.5,585.70" fill="none" stroke="#ff0000" stroke-width="1" stroke-dasharray="3 3" shape-rendering="crispEdges"/>
</g>
<text x="10" y="586" font-size="10" fill="#000" text-anchor="start" textLength="148" lengthAdjust="spacingAndGlyphs">MACD(12,26,9) 0.003942 0.004983</text>
<rect x="1422" y="575" width="2" height="1" fill="#000000"/>
<text x="1425" y="584" font-size="10" fill="#000" text-anchor="start" textLength="33" lengthAdjust="spacingAndGlyphs">0.00597</text>
<rect x="1422" y="634" width="2" height="1" fill="#000000"/>
<text x="1425" y="638" font-size="10" fill="#000" text-anchor="start" textLength="18" lengthAdjust="spacingAndGlyphs">0.00</text>
<rect x="1422" y="676" width="2" height="1" fill="#000000"/>
<text x="1425" y="674" font-size="10" fill="#000" text-anchor="start" textLength="40" lengthAdjust="spacingAndGlyphs">-0.004243</text>
<g clip-path="url(#cr)">
<line x1="7" y1="719.5" x2="1421" y2="719.5" stroke="#c0c0c0" stroke-dasharray="3 3"/>
<line x1="7" y1="770.5" x2="1421" y2="770.5" stroke="#c0c0c0" stroke-dasharray="3 3"/>
<polyline points="6.5,747.77 14.5,748.18 22.5,745.80 30.5,745.31 38.5,755.92 46.5,749.41 54.5,741.95 62.5,744.19 70.5,745.56 78.5,746.73 86.5,747.96 94.5,756.01 102.5,762.91 110.5,761.13 118.5,761.50 126.5,751.53 134.5,752.41 142.5,749.84 150.5,739.71 158.5,740.52 166.5,751.64 174.5,752.28 182.5,748.46 190.5,761.40 198.5,744.55 206.5,746.59 214.5,758.08 222.5,757.66 230.5,743.63 238.5,753.55 246.5,755.31 254.5,757.68 262.5,760.81 270.5,758.65 278.5,746.78 286.5,749.38 294.5,750.69 302.5,751.59 310.5,760.04 318.5,757.49 326.5,765.38 334.5,748.89 342.5,748.33 350.5,748.87 358.5,752.65 366.5,743.70 374.5,739.94 382.5,735.43 390.5,733.97 398.5,733.60 406.5,731.15 414.5,731.76 422.5,736.66 430.5,735.27 438.5,740.20 446.5,741.01 454.5,742.91 462.5,737.45 470.5,739.27 478.5,739.27 486.5,736.80 494.5,735.96 502.5,731.28 510.5,728.09 518.5,723.96 526.5,723.62 534.5,731.47 542.5,733.35 550.5,724.82 558.5,721.65 566.5,717.79 574.5,729.30 582.5,729.30 590.5,728.93 598.5,730.86 606.5,740.09 614.5,742.80 622.5,741.27 630.5,743.32 638.5,743.92 646.5,743.30 654.5,744.33 662.5,741.94 670.5,752.45 678.5,745.02 686.5,747.82 694.5,746.12 702.5,731.66 710.5,732.71 718.5,720.42 726.5,731.04 734.5,729.74 742.5,725.99 750.5,733.73 758.5,743.58 766.5,743.35 774.5,746.04 782.5,746.04 790.5,749.13 798.5,754.43 806.5,767.78 814.5,765.40 822.5,758.55 830.5,759.27 838.5,762.16 846.5,757.65 854.5,755.28 862.5,754.67 870.5,751.53 878.5,753.32 886.5,741.96 894.5,745.01 902.5,747.21 910.5,740.34 918.5,740.34 926.5,739.78 934.5,743.16 942.5,741.26 950.5,734.25 958.5,732.90 966.5,732.61 974.5,734.37 982.5,730.41 990.5,721.46 998.5,715.82 1006.5,710.02 1014.5,711.77 1022.5,710.38 1030.5,705.11 1038.5,704.91 1046.5,706.33 1054.5,710.20 1062.5,710.05 1070.5,709.74 1078.5,711.99 1086.5,720.12 1094.5,716.50 1102.5,724.45 1110.5,730.36 1118.5,730.81" fill="none" stroke="#1e90ff" stroke-width="1" shape-rendering="crispEdges"/>
</g>
<text x="10" y="692" font-size="10" fill="#000" text-anchor="start" textLength="68" lengthAdjust="spacingAndGlyphs">RSI(14) 60.7427</text>
<rect x="1422" y="681" width="2" height="1" fill="#000000"/>
<text x="1425" y="690" font-size="10" fill="#000" text-anchor="start" textLength="15" lengthAdjust="spacingAndGlyphs">100</text>
<rect x="1422" y="719" width="2" height="1" fill="#000000"/>
<text x="1425" y="723" font-size="10" fill="#000" text-anchor="start" textLength="10" lengthAdjust="spacingAndGlyphs">70</text>
<rect x="1422" y="770" width="2" height="1" fill="#000000"/>
<text x="1425" y="774" font-size="10" fill="#000" text-anchor="start" textLength="10" lengthAdjust="spacingAndGlyphs">30</text>
<rect x="1422" y="808" width="1" height="1" fill="#000000"/>
<text x="1425" y="806" font-size="10" fill="#000" text-anchor="start" textLength="5" lengthAdjust="spacingAndGlyphs">0</text>
<rect x="6" y="810" width="1" height="3" fill="#000000"/>
<text x="5" y="822" font-size="10" fill="#000" text-anchor="start" textLength="54.3" lengthAdjust="spacingAndGlyphs">23 Nov 2018</text>
<rect x="70" y="810" width="1" height="3" fill="#000000"/>
<text x="69" y="822" font-size="10" fill="#000" text-anchor="start" textLength="47.2" lengthAdjust="spacingAndGlyphs">3 Dec 2018</text>
<rect x="134" y="810" width="1" height="3" fill="#000000"/>
<text x="133" y="822" font-size="10" fill="#000" text-anchor="start" textLength="52.6" lengthAdjust="spacingAndGlyphs">12 Dec 2018</text>
<rect x="198" y="810" width="1" height="3" fill="#000000"/>
<text x="197" y="822" font-size="10" fill="#000" text-anchor="start" textLength="52.6" lengthAdjust="spacingAndGlyphs">21 Dec 2018</text>
<rect x="262" y="810" width="1" height="3" fill="#000000"/>
<text x="261" y="822" font-size="10" fill="#000" text-anchor="start" textLength="53" lengthAdjust="spacingAndGlyphs">31 Dec 2018</text>
<rect x="326" y="810" width="1" height="3" fill="#000000"/>
<text x="325" y="822" font-size="10" fill="#000" text-anchor="start" textLength="45.8" lengthAdjust="spacingAndGlyphs">9 Jan 2019</text>
<rect x="390" y="810" width="1" height="3" fill="#000000"/>
<text x="389" y="822" font-size="10" fill="#000" text-anchor="start" textLength="50.2" lengthAdjust="spacingAndGlyphs">18 Jan 2019</text>
<rect x="454" y="810" width="1" height="3" fill="#000000"/>
<text x="453" y="822" font-size="10" fill="#000" text-anchor="start" textLength="50.4" lengthAdjust="spacingAndGlyphs">28 Jan 2019</text>
<rect x="518" y="810" width="1" height="3" fill="#000000"/>
<text x="517" y="822" font-size="10" fill="#000" text-anchor="start" textLength="48.3" lengthAdjust="spacingAndGlyphs">6 Feb 2019</text>
<rect x="582" y="810" width="1" height="3" fill="#000000"/>
<text x="581" y="822" font-size="10" fill="#000" text-anchor="start" textLength="52" lengthAdjust="spacingAndGlyphs">15 Feb 2019</text>
<rect x="646" y="810" width="1" height="3" fill="#000000"/>
<text x="645" y="822" font-size="10" fill="#000" text-anchor="start" textLength="53" lengthAdjust="spacingAndGlyphs">25 Feb 2019</text>
<rect x="710" y="810" width="1" height="3" fill="#000000"/>
<text x="709" y="822" font-size="10" fill="#000" text-anchor="start" textLength="48.3" lengthAdjust="spacingAndGlyphs">6 Mar 2019</text>
<rect x="774" y="810" width="1" height="3" fill="#000000"/>
<text x="773" y="822" font-size="10" fill="#000" text-anchor="start" textLength="52.5" lengthAdjust="spacingAndGlyphs">15 Mar 2019</text>
<rect x="838" y="810" width="1" height="3" fill="#000000"/>
<text x="837" y="822" font-size="10" fill="#000" text-anchor="start" textLength="52.8" lengthAdjust="spacingAndGlyphs">25 Mar 2019</text>
<rect x="902" y="810" width="1" height="3" fill="#000000"/>
<text x="901" y="822" font-size="10" fill="#000" text-anchor="start" textLength="46.7" lengthAdjust="spacingAndGlyphs">3 Apr 2019</text>
<rect x="966" y="810" width="1" height="3" fill="#000000"/>
<text x="965" y="822" font-size="10" fill="#000" text-anchor="start" textLength="51.7" lengthAdjust="spacingAndGlyphs">12 Apr 2019</text>
<rect x="1030" y="810" width="1" height="3" fill="#000000"/>
<text x="1029" y="822" font-size="10" fill="#000" text-anchor="start" textLength="51.7" lengthAdjust="spacingAndGlyphs">23 Apr 2019</text>
<rect x="1094" y="810" width="1" height="3" fill="#000000"/>
<text x="1093" y="822" font-size="10" fill="#000" text-anchor="start" textLength="50.9" lengthAdjust="spacingAndGlyphs">2 May 2019</text>
<rect x="3" y="833" width="1462" height="19" fill="#f0f0f0"/>
<rect x="1" y="832" width="223" height="1" fill="#000000"/>
<rect x="330" y="832" width="1135" height="1" fill="#000000"/>
<rect x="3" y="833" width="220" height="1" fill="#ffffff"/>
<rect x="331" y="833" width="1134" height="1" fill="#ffffff"/>
<rect x="224" y="832" width="106" height="18" fill="#ffffff"/>
<rect x="223" y="832" width="1" height="19" fill="#000000"/>
<rect x="330" y="832" width="1" height="19" fill="#000000"/>
<rect x="223" y="850" width="108" height="1" fill="#000000"/>
<rect x="1" y="832" width="1" height="20" fill="#a0a0a0"/>
<rect x="2" y="833" width="1" height="19" fill="#696969"/>
<rect x="0" y="852" width="1465" height="1" fill="#ffffff"/>
<rect x="0" y="855" width="1465" height="1" fill="#a0a0a0"/>
<rect x="0" y="857" width="1465" height="1" fill="#ffffff"/>
<rect x="115" y="835" width="1" height="14" fill="#696969"/>
<rect x="439" y="835" width="1" height="14" fill="#696969"/>
<rect x="551" y="835" width="1" height="14" fill="#696969"/>
<rect x="671" y="835" width="1" height="14" fill="#696969"/>
<text x="18" y="847" font-size="12" fill="#6d6d6d" text-anchor="start" textLength="85" lengthAdjust="spacingAndGlyphs">EURUSD-,Daily</text>
<text x="125" y="847" font-size="12" fill="#6d6d6d" text-anchor="start" textLength="87" lengthAdjust="spacingAndGlyphs">AUDUSD-,Daily</text>
<text x="235" y="847" font-size="12" fill="#000" text-anchor="start" textLength="84" lengthAdjust="spacingAndGlyphs">USDCHF-,Daily</text>
<text x="342" y="847" font-size="12" fill="#6d6d6d" text-anchor="start" textLength="86" lengthAdjust="spacingAndGlyphs">USDCAD-,Daily</text>
<text x="451" y="847" font-size="12" fill="#6d6d6d" text-anchor="start" textLength="88" lengthAdjust="spacingAndGlyphs">USDCNH-,Daily</text>
<text x="562" y="847" font-size="12" fill="#6d6d6d" text-anchor="start" textLength="97" lengthAdjust="spacingAndGlyphs">EURCHF-,Weekly</text>
<polygon points="1440,838 1440,844 1437,841" fill="#999" shape-rendering="auto"/>
<polygon points="1456,838 1456,844 1459,841" fill="#999" shape-rendering="auto"/>
</svg></body></html>
